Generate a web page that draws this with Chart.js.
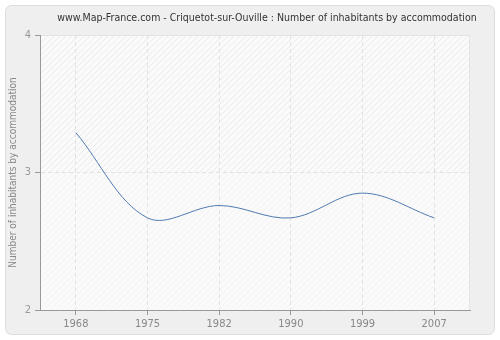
<!DOCTYPE html>
<html>
<head>
<meta charset="utf-8">
<script src="https://cdn.jsdelivr.net/npm/chart.js@4/dist/chart.umd.min.js"></script>
<style>
  html, body { margin: 0; padding: 0; background: #fff; }
  #wrap { width: 500px; height: 340px; position: relative; }
</style>
</head>
<body>
<div id="wrap"><canvas id="chart-inhabitants" width="500" height="340"></canvas></div>
<script>
var years = ['1968', '1975', '1982', '1990', '1999', '2007'];
var inhabitants = [3.29, 2.67, 2.76, 2.67, 2.85, 2.67];
var yTicks = [2, 3, 4];
var chartTitle = 'www.Map-France.com - Criquetot-sur-Ouville : Number of inhabitants by accommodation';
var yTitle = 'Number of inhabitants by accommodation';

var font = "'DejaVu Sans Condensed', 'DejaVu Sans', Verdana, sans-serif";

function hatch(ctx, color) {
    var c = document.createElement('canvas');
    c.width = 6; c.height = 6;
    var p = c.getContext('2d');
    p.fillStyle = '#fafafa';
    p.fillRect(0, 0, 6, 6);
    p.strokeStyle = color;
    p.lineWidth = 1;
    p.beginPath();
    p.moveTo(0, 6); p.lineTo(6, 0);
    p.moveTo(-1, 1); p.lineTo(1, -1);
    p.moveTo(5, 7); p.lineTo(7, 5);
    p.stroke();
    return ctx.createPattern(c, 'repeat');
}

// panel, plot background and title
var background = {
    id: 'background',
    beforeDraw: function(chart) {
        var ctx = chart.ctx, a = chart.chartArea;
        ctx.save();
        ctx.fillStyle = '#fff';
        ctx.fillRect(0, 0, chart.width, chart.height);
        ctx.beginPath();
        ctx.roundRect(5.5, 5.5, 489, 329, 6);
        ctx.fillStyle = '#efefef';
        ctx.fill();
        ctx.strokeStyle = '#dcdcdc';
        ctx.lineWidth = 1;
        ctx.stroke();

        var mid = chart.scales.y.getPixelForValue(3);
        ctx.fillStyle = hatch(ctx, '#ebebeb');
        ctx.fillRect(a.left, a.top, a.right - a.left, mid - a.top);
        ctx.fillStyle = hatch(ctx, '#f3f3f3');
        ctx.fillRect(a.left, mid, a.right - a.left, a.bottom - mid);
        ctx.strokeStyle = '#e4e4e4';
        ctx.beginPath();
        ctx.moveTo(a.left, a.top + 0.5); ctx.lineTo(a.right - 0.5, a.top + 0.5);
        ctx.lineTo(a.right - 0.5, a.bottom);
        ctx.stroke();

        ctx.fillStyle = '#333';
        ctx.font = '10.5px ' + font;
        ctx.textAlign = 'center';
        ctx.textBaseline = 'middle';
        ctx.fillText(chartTitle, 267, 18);
        ctx.restore();
    }
};

var ctx = document.getElementById('chart-inhabitants');
var myChart = new Chart(ctx, {
    type: 'line',
    data: {
        labels: years,
        datasets: [{
            data: inhabitants,
            borderColor: '#4f7bb0',
            borderWidth: 1,
            pointRadius: 0,
            fill: false,
            tension: 0.35
        }]
    },
    options: {
        responsive: false,
        animation: false,
        layout: { padding: { left: 0, right: 30, top: 35, bottom: 0 } },
        plugins: { legend: { display: false }, tooltip: { enabled: false } },
        scales: {
            x: {
                type: 'category',
                offset: true,
                grid: { color: '#e2e2e2', tickLength: 5, tickColor: '#999', offset: false },
                border: { color: '#999', dash: [4, 3] },
                ticks: { color: '#888', font: { family: font, size: 11 }, padding: 3 },
                afterFit: function(s) { s.height = 30; }
            },
            y: {
                min: 2,
                max: 4,
                afterBuildTicks: function(s) { s.ticks = yTicks.map(function(v) { return { value: v }; }); },
                grid: { color: '#e2e2e2', tickLength: 5, tickColor: '#999' },
                border: { color: '#999', dash: [4, 3] },
                ticks: { color: '#999', font: { family: font, size: 11 }, padding: 4 },
                title: { display: true, text: yTitle, color: '#888', font: { family: font, size: 10 }, padding: { top: 7, bottom: 0 } },
                afterFit: function(s) { s.width = 40; }
            }
        }
    },
    plugins: [background]
});
</script>
</body>
</html>
